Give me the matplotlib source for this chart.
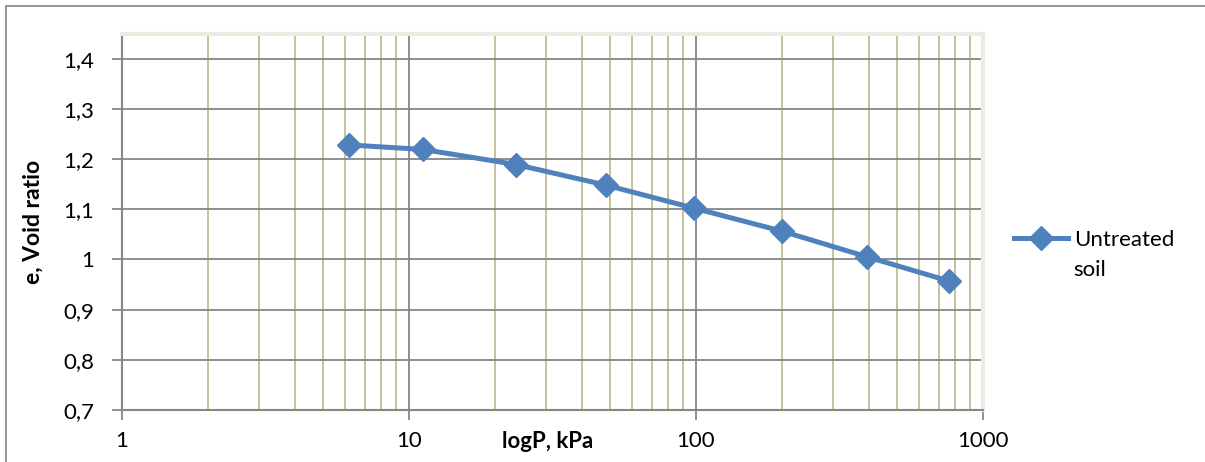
import matplotlib
matplotlib.use("Agg")
import matplotlib.pyplot as plt
from matplotlib.ticker import FixedLocator, FuncFormatter, NullFormatter, LogLocator
from matplotlib.patches import Rectangle

plt.rcParams['font.family'] = ['Lato', 'DejaVu Sans']

# data
pressure = [6.2, 11.2, 23.6, 48.5, 98.5, 200, 395, 760]
void_ratio = [1.228, 1.219, 1.189, 1.148, 1.102, 1.056, 1.005, 0.957]
series_name = "Untreated"
series_name_2 = "soil"
y_ticks = [0.7, 0.8, 0.9, 1.0, 1.1, 1.2, 1.3, 1.4]
x_ticks = [1, 10, 100, 1000]

blue = "#4F81BD"
tan = "#C4BC96"
gray = "#868686"

fig = plt.figure(figsize=(12.05, 4.62), dpi=100)
fig.patches.append(Rectangle((6 / 1205, -0.1), 1.2, 1 - 6.5 / 462 + 0.1,
                             transform=fig.transFigure, fill=False,
                             edgecolor="#8c8c8c", linewidth=1.3))
ax = fig.add_axes([122 / 1205, 1 - 410 / 462, (983 - 122) / 1205, (410 - 33.5) / 462])

ax.plot(pressure, void_ratio, color=blue, linewidth=3.6, marker="D",
        markersize=12, markeredgecolor=blue, label=series_name, zorder=5,
        clip_on=False)

ax.set_xscale("log")
ax.set_xlim(1, 1000)
ax.set_ylim(0.7, 1.45)

ax.xaxis.set_major_locator(FixedLocator(x_ticks))
ax.xaxis.set_major_formatter(FuncFormatter(lambda v, p: f"{v:g}"))
ax.xaxis.set_minor_locator(LogLocator(base=10, subs=range(2, 10)))
ax.xaxis.set_minor_formatter(NullFormatter())
ax.yaxis.set_major_locator(FixedLocator(y_ticks))
ax.yaxis.set_major_formatter(FuncFormatter(lambda v, p: f"{v:g}".replace(".", ",")))

ax.grid(which="major", axis="y", color=gray, linewidth=1.3)
ax.grid(which="major", axis="x", color=gray, linewidth=1.3)
ax.grid(which="minor", axis="x", color=tan, linewidth=1.3)
ax.set_axisbelow(True)

for s in ["left", "bottom"]:
    ax.spines[s].set_color(gray)
    ax.spines[s].set_linewidth(1.5)
for s in ["top", "right"]:
    ax.spines[s].set_color("#EDEBE1")
    ax.spines[s].set_linewidth(3)

ax.tick_params(axis="both", which="major", length=7, width=1.3, color=gray,
               labelsize=16)
ax.tick_params(axis="x", which="minor", length=0)
ax.tick_params(axis="x", which="major", pad=8)
ax.tick_params(axis="y", which="major", pad=13)

ax.set_ylabel("e, Void ratio", fontsize=16.5, fontweight="bold", labelpad=14)
ax.text(548 / 1205, 1 - 442 / 462, "logP, kPa", transform=fig.transFigure,
        ha="center", va="center", fontsize=16, fontweight="bold")

leg = ax.legend(loc="center left", bbox_to_anchor=(1.036, 0.4515), frameon=False,
                fontsize=16, handlelength=2.45, handletextpad=0.25,
                borderpad=0, borderaxespad=0)
ax.text(1.1045, 0.372, series_name_2, transform=ax.transAxes,
        ha="left", va="center", fontsize=16, clip_on=False)

fig.savefig("out.png", dpi=100)
